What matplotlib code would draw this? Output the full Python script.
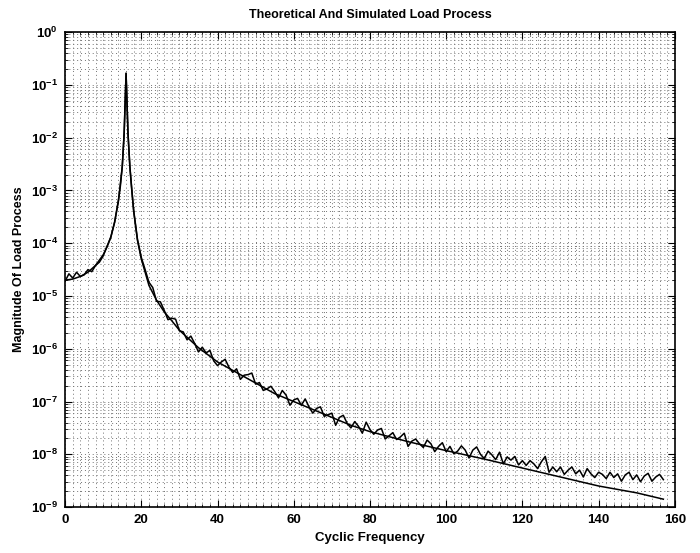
import numpy as np
import matplotlib
matplotlib.use("Agg")
import matplotlib.pyplot as plt
from matplotlib.ticker import MultipleLocator, LogLocator

# ---------------- DATA (log10 of magnitude) ----------------
theory_freq = [0, 2, 4, 6, 8, 10, 11, 12, 13, 14, 15, 15.5, 16, 16.5, 17, 18, 19, 20,
               22, 24, 26, 28, 30, 35, 40, 45, 50, 55, 60, 65, 70, 75, 80, 90, 100,
               110, 120, 130, 140, 150, 157]
theory_log = [-4.70, -4.68, -4.63, -4.55, -4.42, -4.22, -4.07, -3.88, -3.60, -3.20,
              -2.55, -1.90, -0.78, -1.90, -2.55, -3.40, -3.95, -4.30,
              -4.80, -5.08, -5.30, -5.47, -5.65, -5.98, -6.25, -6.45, -6.65, -6.85,
              -7.00, -7.15, -7.30, -7.45, -7.57, -7.76, -7.93,
              -8.09, -8.26, -8.43, -8.60, -8.73, -8.85]

sim_freq = list(range(0, 14)) + [14, 14.5, 15, 15.5, 16, 16.5, 17, 17.5] + list(range(18, 158))
sim_log = [-4.72, -4.58, -4.66, -4.55, -4.63, -4.60, -4.50, -4.54, -4.42, -4.36,
           -4.24, -4.06, -3.89, -3.60,
           -3.18, -2.92, -2.55, -1.92, -0.78, -1.92, -2.56, -3.00,
           # 18 - 57
           -3.38, -3.93, -4.27, -4.50, -4.74, -4.84, -5.10, -5.11, -5.27, -5.45,
           -5.42, -5.44, -5.66, -5.68, -5.83, -5.76, -5.90, -6.06, -5.97, -6.08,
           -6.03, -6.23, -6.32, -6.25, -6.20, -6.35, -6.45, -6.38, -6.58, -6.50,
           -6.49, -6.46, -6.67, -6.64, -6.79, -6.76, -6.71, -6.81, -6.93, -6.79,
           # 58 - 97
           -6.88, -7.07, -6.97, -6.94, -7.07, -6.95, -7.10, -7.22, -7.13, -7.10,
           -7.28, -7.25, -7.22, -7.45, -7.30, -7.26, -7.41, -7.50, -7.38, -7.47,
           -7.60, -7.39, -7.53, -7.62, -7.54, -7.51, -7.71, -7.65, -7.59, -7.72,
           -7.67, -7.60, -7.85, -7.75, -7.71, -7.80, -7.87, -7.73, -7.80, -7.95,
           # 98 - 137
           -7.85, -7.78, -7.95, -7.85, -7.99, -7.94, -7.84, -7.92, -8.07, -7.92,
           -7.86, -8.00, -8.08, -7.94, -8.01, -8.10, -7.96, -8.18, -8.05, -8.11,
           -8.04, -8.20, -8.12, -8.21, -8.12, -8.18, -8.27, -8.14, -8.04, -8.34,
           -8.24, -8.33, -8.24, -8.38, -8.30, -8.24, -8.37, -8.30, -8.43, -8.27,
           # 138 - 157
           -8.37, -8.44, -8.34, -8.38, -8.46, -8.34, -8.44, -8.37, -8.51, -8.39,
           -8.34, -8.48, -8.39, -8.52, -8.41, -8.36, -8.51, -8.43, -8.38, -8.48]

# ---------------- PLOT ----------------
plt.rcParams['font.family'] = ['Liberation Sans', 'DejaVu Sans']

fig = plt.figure(figsize=(7, 5.53), dpi=100)
ax = fig.add_axes([0.093, 0.083, 0.871, 0.859])

ax.plot(theory_freq, 10.0 ** np.array(theory_log), color='black', linewidth=1.1)
ax.plot(sim_freq, 10.0 ** np.array(sim_log), color='black', linewidth=1.1)

ax.set_yscale('log')
ax.set_xlim(0, 160)
ax.set_ylim(1e-9, 1e0)
ax.xaxis.set_major_locator(MultipleLocator(20))
ax.xaxis.set_minor_locator(MultipleLocator(2))
ax.yaxis.set_major_locator(LogLocator(base=10, numticks=12))
ax.yaxis.set_minor_locator(LogLocator(base=10, subs=np.arange(2, 10), numticks=12))

ax.grid(True, which='both', linestyle=(0, (1, 3)), color='0.45', linewidth=0.7)
ax.tick_params(which='both', direction='in', top=True, right=True)
ax.tick_params(which='major', length=5, labelsize=9.5, pad=5)
ax.tick_params(which='minor', length=2.5)
for lab in ax.get_xticklabels() + ax.get_yticklabels():
    lab.set_fontweight('bold')
for s in ax.spines.values():
    s.set_linewidth(1.2)

ax.set_title('Theoretical And Simulated Load Process', fontsize=9, fontweight='bold', pad=10)
ax.set_xlabel('Cyclic Frequency', fontsize=9.5, fontweight='bold', labelpad=4)
ax.set_ylabel('Magnitude Of Load Process', fontsize=9, fontweight='bold')

fig.savefig('out.png', dpi=100)
